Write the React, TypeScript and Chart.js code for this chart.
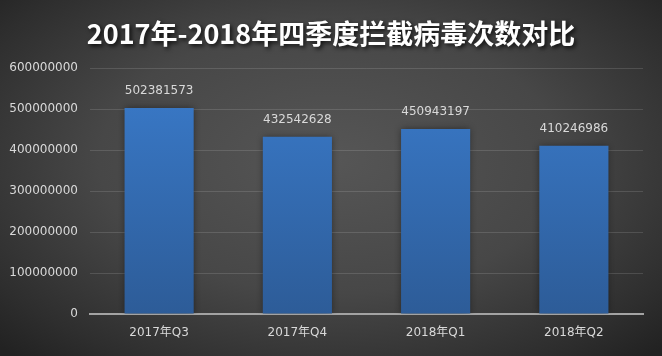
import React, { useEffect, useRef } from "react";
import { Chart, registerables } from "chart.js";

Chart.register(...registerables);

const titleText = "2017年-2018年四季度拦截病毒次数对比";
const categories = ["2017年Q3", "2017年Q4", "2018年Q1", "2018年Q2"];
const values = [502381573, 432542628, 450943197, 410246986];
const yMin = 0;
const yMax = 600000000;
const yStep = 100000000;

const FONT = "'DejaVu Sans', 'Noto Sans CJK SC', sans-serif";

export default function App() {
  const ref = useRef<HTMLCanvasElement | null>(null);

  useEffect(() => {
    const canvas = ref.current;
    if (!canvas) return;

    const shadowPlugin = {
      id: "barShadow",
      beforeDatasetsDraw(chart: any) {
        const ctx = chart.ctx;
        ctx.save();
        ctx.shadowColor = "rgba(0,0,0,0.45)";
        ctx.shadowBlur = 7;
        ctx.shadowOffsetX = 0;
        ctx.shadowOffsetY = 0;
      },
      afterDatasetsDraw(chart: any) {
        chart.ctx.restore();
      },
    };

    const labelPlugin = {
      id: "valueLabels",
      afterDatasetsDraw(chart: any) {
        const ctx = chart.ctx;
        const meta = chart.getDatasetMeta(0);
        ctx.save();
        ctx.font = `12px ${FONT}`;
        ctx.fillStyle = "#d9d9d9";
        ctx.textAlign = "center";
        ctx.textBaseline = "middle";
        meta.data.forEach((bar: any, i: number) => {
          ctx.fillText(String(values[i]), bar.x, bar.y - 17);
        });
        ctx.restore();
      },
    };

    const titlePlugin = {
      id: "shadowTitle",
      afterDraw(chart: any) {
        const ctx = chart.ctx;
        ctx.save();
        ctx.font = `bold 27px 'Noto Sans CJK SC', sans-serif`;
        ctx.textAlign = "center";
        ctx.textBaseline = "middle";
        ctx.shadowColor = "rgba(0,0,0,0.8)";
        ctx.shadowBlur = 4;
        ctx.shadowOffsetX = 2;
        ctx.shadowOffsetY = 2;
        ctx.fillStyle = "#ffffff";
        ctx.fillText(titleText, chart.width / 2, 34);
        ctx.restore();
      },
    };

    const chart = new Chart(canvas, {
      type: "bar",
      data: {
        labels: categories,
        datasets: [
          {
            data: values,
            backgroundColor: (c: any) => {
              const area = c.chart.chartArea;
              if (!area) return "#3877c4";
              const g = c.chart.ctx.createLinearGradient(0, area.top, 0, area.bottom);
              g.addColorStop(0, "#3a7bcb");
              g.addColorStop(1, "#2d5c98");
              return g;
            },
            borderWidth: 0,
            barPercentage: 0.5,
            categoryPercentage: 1,
          },
        ],
      },
      options: {
        animation: false,
        responsive: true,
        maintainAspectRatio: false,
        layout: { padding: { top: 68, right: 19, bottom: 0, left: 0 } },
        plugins: {
          legend: { display: false },
          title: { display: false },
          tooltip: { enabled: false },
        },
        scales: {
          x: {
            afterFit(scale: any) {
              scale.height = 42;
            },
            grid: { display: false, drawTicks: false },
            border: { display: true, color: "#a3a3a3", width: 2 },
            ticks: {
              color: "#d9d9d9",
              font: { family: FONT, size: 12 },
              padding: 12,
            },
          },
          y: {
            min: yMin,
            max: yMax,
            afterFit(scale: any) {
              scale.width = 90;
            },
            grid: { color: "rgba(255,255,255,0.13)", lineWidth: 1, drawTicks: false },
            border: { display: false },
            ticks: {
              stepSize: yStep,
              color: "#d9d9d9",
              font: { family: FONT, size: 12 },
              padding: 12,
              callback: (v: any) => String(v),
            },
          },
        },
      },
      plugins: [shadowPlugin, labelPlugin, titlePlugin],
    });

    return () => chart.destroy();
  }, []);

  return (
    <div
      style={{
        position: "absolute",
        left: 0,
        top: 0,
        width: 662,
        height: 356,
        background:
          "radial-gradient(ellipse 70% 75% at 50% 45%, #565656 0%, #474747 50%, #2e2e2e 85%, #222222 100%)",
      }}
    >
      <canvas ref={ref} />
    </div>
  );
}
